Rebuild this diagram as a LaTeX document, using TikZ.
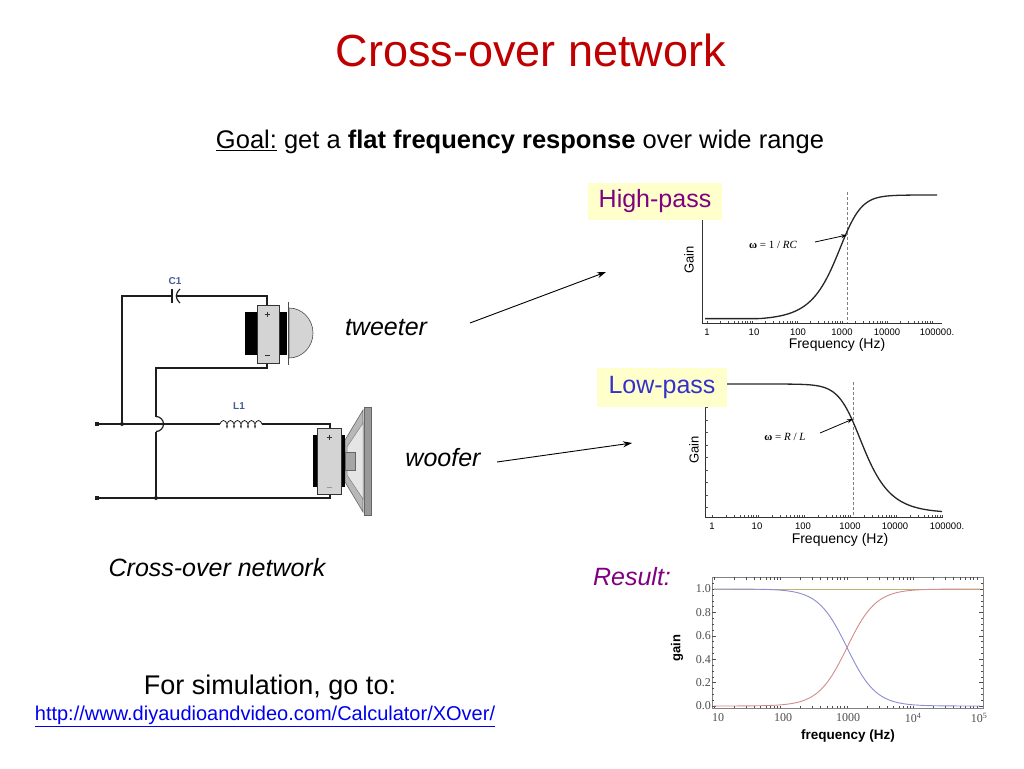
\documentclass[tikz,border=0pt]{standalone}
\usepackage{fontspec}
\setmainfont{Liberation Sans}
\newfontfamily\seriffont{Liberation Serif}
\usetikzlibrary{arrows.meta,decorations.pathmorphing}
\definecolor{titlered}{RGB}{192,0,0}
\definecolor{hpurple}{RGB}{128,0,128}
\definecolor{lblue}{RGB}{51,51,204}
\definecolor{boxyellow}{RGB}{255,255,204}
\definecolor{lblcol}{RGB}{70,90,150}
\definecolor{wire}{RGB}{30,30,30}
\definecolor{spkgray}{RGB}{212,212,212}
\definecolor{curveblue}{RGB}{140,140,210}
\definecolor{curvered}{RGB}{210,140,140}
\definecolor{sumline}{RGB}{190,180,120}
\definecolor{framegray}{RGB}{130,130,130}
\definecolor{urlblue}{RGB}{0,0,238}
\begin{document}
\begin{tikzpicture}[x=1pt,y=-1pt,
  txt/.style={inner sep=0pt, anchor=center},
  big/.style={font=\fontsize{25}{30}\selectfont},
  wirel/.style={draw=wire, line width=1.2pt},
  dot/.style={circle, fill=wire, inner sep=0pt, minimum size=4pt},
  term/.style={rectangle, fill=wire, inner sep=0pt, minimum size=3.5pt},
  axisl/.style={draw=black!80, line width=0.6pt},
  tickl/.style={draw=black!70, line width=0.4pt},
  gcurve/.style={line width=1.3pt, draw=black!85},
  lbox/.style={fill=boxyellow, inner sep=0pt, font=\fontsize{25}{30}\selectfont},
  ptr/.style={-{Stealth[length=9pt,width=6pt]}, line width=0.9pt},
  sptr/.style={-{Stealth[length=6pt,width=4pt]}, line width=0.8pt},
  ticklbl/.style={inner sep=0pt, anchor=center, font=\fontsize{9.5}{10}\selectfont},
  axlbl/.style={inner sep=0pt, anchor=center, font=\fontsize{14}{16}\selectfont},
  rlbl/.style={inner sep=0pt, font=\seriffont\fontsize{12}{13}\selectfont, text=black!70},
  cdash/.style={draw=black!50, line width=0.5pt, dash pattern=on 3pt off 2pt}
]
\useasboundingbox (0,0) rectangle (1024,768);

% ---------- texts ----------
\node[txt, text=titlered, font=\fontsize{45}{50}\selectfont] (title) at (531,50) {Cross-over network};
\node[txt, font=\fontsize{25.5}{30}\selectfont] (goal) at (520,142) {\underline{Goal:} get a \textbf{flat frequency response} over wide range};
\node[txt, big, font=\itshape\fontsize{25}{30}\selectfont] (tw) at (386,328) {tweeter};
\node[txt, big, font=\itshape\fontsize{25}{30}\selectfont] (wf) at (443,458) {woofer};
\node[txt, big, font=\itshape\fontsize{25}{30}\selectfont] (cap) at (217,568) {Cross-over network};
\node[txt, text=hpurple, font=\itshape\fontsize{25}{30}\selectfont] (res) at (632,577) {Result:};
\node[txt, font=\fontsize{27}{30}\selectfont] (sim) at (270,688) {For simulation, go to:};
\node[txt, text=urlblue, font=\fontsize{20}{24}\selectfont] (url) at (265,716) {\underline{http://www.diyaudioandvideo.com/Calculator/XOver/}};

% ---------- arrows ----------
\coordinate (twA) at (470,323);
\coordinate (twB) at (606,272);
\coordinate (wfA) at (497,462);
\coordinate (wfB) at (632,443);
\draw[ptr] (twA) -- (twB);
\draw[ptr] (wfA) -- (wfB);

% ---------- circuit ----------
\coordinate (tin) at (97,424);
\coordinate (bin) at (97,498);
\coordinate (j1) at (122,424);
\coordinate (cl) at (172,296);
\coordinate (cr) at (175.5,296);
\coordinate (twp) at (267,306);
\coordinate (twm) at (267,362);
\coordinate (hopT) at (156,416.5);
\coordinate (hopB) at (156,431.5);
\coordinate (j2) at (156,498);
\coordinate (la) at (220,424);
\coordinate (lb) at (262,424);
\coordinate (wfp) at (330,428);
\coordinate (wfm) at (330,494);

\draw[wirel] (j1) |- (cl);
\draw[wirel] (cr) -| (twp);
\draw[wirel] (twm) -- ++(0,6) -| (hopT);
\draw[wirel] (hopT) arc[start angle=-90, end angle=90, radius=7.5];
\draw[wirel] (hopB) -- (j2);
\draw[wirel] (tin) -- (la);
\draw[draw=wire, line width=0.8pt, decorate, decoration={coil, aspect=0.5, segment length=7pt, amplitude=3.5pt}] (la) -- (lb);
\draw[wirel] (lb) -| (wfp);
\draw[wirel] (bin) -| (wfm);
% capacitor plates
\draw[wirel] (172,289) -- (172,303);
\draw[wirel] (180,289) .. controls (175,294) and (175,298) .. (180,303);
\node[txt, text=lblcol, font=\bfseries\fontsize{10}{12}\selectfont] (c1) at (175,281) {C1};
\node[txt, text=lblcol, font=\bfseries\fontsize{10}{12}\selectfont] (l1) at (239,406) {L1};
\node[dot] at (j1) {};
\node[dot] at (j2) {};
\node[term] at (tin) {};
\node[term] at (bin) {};

% tweeter
\fill[black] (245,312) rectangle (287,355);
\draw[fill=spkgray, draw=black!80, line width=0.6pt] (257,305) rectangle (279,363);
\draw[black!80, line width=0.6pt] (264.5,314) -- (269.5,314) (267,311.5) -- (267,316.5);
\draw[black!80, line width=0.6pt] (264.5,355) -- (269.5,355);
\draw[fill=spkgray, draw=black!70, line width=0.6pt] (289,308) arc[start angle=-90, end angle=90, x radius=24, y radius=25] -- cycle;
\draw[black!70, line width=0.9pt] (288,302) -- (288,365);

% woofer
\draw[fill=black!28, draw=black!60, line width=0.6pt] (345,440) -- (363,410) -- (363,512) -- (345,482) -- cycle;
\draw[fill=black!10, draw=black!50, line width=0.5pt] (347,447) -- (363,423) -- (363,499) -- (347,475) -- cycle;
\draw[fill=black!35, draw=black!60, line width=0.5pt] (345,452) rectangle (355,470);
\fill[black] (313,435) rectangle (345,487);
\draw[fill=spkgray, draw=black!80, line width=0.6pt] (317,428) rectangle (341,494);
\draw[black!80, line width=0.6pt] (326.5,437) -- (331.5,437) (329,434.5) -- (329,439.5);
\draw[black!40, line width=0.6pt] (326.5,487) -- (331.5,487);
\draw[fill=black!40, draw=black!60, line width=0.6pt] (364,407) rectangle (371,515);

% ---------- high-pass plot ----------
\draw[axisl] (702,195) -- (702,323) -- (942,323);
\foreach \d in {0,...,4} \foreach \k in {1,...,9} {
  \draw[tickl] ({707+45*(\d+log10(\k))},323) -- ++(0,-2.5);
}
\draw[tickl] (932,323) -- ++(0,-2.5);
\draw[cdash] (847,192) -- (847,323);
\draw[gcurve] plot[domain=705:937, samples=120, smooth] (\x, {320 - 125/sqrt(1+exp(min(9,-4.6052*(\x-847)/45)))});
\foreach \lab/\px in {1/707, 10/754, 100/798, 1000/842, 10000/887, 100000./937}
  \node[ticklbl] at (\px,332) {\lab};
\node[axlbl] (hpf) at (837,345) {Frequency (Hz)};
\node[axlbl, rotate=90, font=\fontsize{13}{14}\selectfont] (hpg) at (689,260) {Gain};
\node[txt, font=\seriffont\fontsize{11}{12}\selectfont] (hpw) at (773,245) {\textbf{ω} = 1 / \textit{RC}};
\coordinate (hpA) at (815,242);
\coordinate (hpB) at (847,235);
\draw[sptr] (hpA) -- (hpB);
\node[lbox, minimum width=134pt, minimum height=37pt, text=hpurple] (hp) at (655,201.5) {High-pass};

% ---------- low-pass plot ----------
\draw[axisl] (705,375) -- (705,517) -- (943,517);
\foreach \d in {0,...,4} \foreach \k in {1,...,9} {
  \draw[tickl] ({712+46*(\d+log10(\k))},517) -- ++(0,-2.5);
}
\draw[tickl] (942,517) -- ++(0,-2.5);
\foreach \yy in {395,407.5,...,512} \draw[tickl] (705,\yy) -- ++(2.5,0);
\draw[cdash] (853,382) -- (853,517);
\draw[gcurve] plot[domain=706:942, samples=120, smooth] (\x, {513 - 129/sqrt(1+exp(min(9,4.6052*(\x-853)/46)))});
\foreach \lab/\px in {1/712, 10/757, 100/803, 1000/850, 10000/895, 100000./947}
  \node[ticklbl] at (\px,526) {\lab};
\node[axlbl] (lpf) at (840,540) {Frequency (Hz)};
\node[axlbl, rotate=90, font=\fontsize{13}{14}\selectfont] (lpg) at (694,450) {Gain};
\node[txt, font=\seriffont\fontsize{11}{12}\selectfont] (lpw) at (785,437) {\textbf{ω} = \textit{R} / \textit{L}};
\coordinate (lpA) at (820,433);
\coordinate (lpB) at (853,419);
\draw[sptr] (lpA) -- (lpB);
\node[lbox, minimum width=130pt, minimum height=39pt, text=lblue] (lp) at (662,387.5) {Low-pass};

% ---------- result plot ----------
\draw[framegray, line width=0.6pt] (712,577) rectangle (983,708);
\foreach \g in {0,0.2,...,1.01} {
  \draw[tickl] (712,{706-117*\g}) -- ++(4,0);
  \draw[tickl] (983,{706-117*\g}) -- ++(-4,0);
}
\foreach \g in {0.05,0.1,0.15,0.25,0.3,0.35,0.45,0.5,0.55,0.65,0.7,0.75,0.85,0.9,0.95,1.05} {
  \draw[tickl] (712,{706-117*\g}) -- ++(2,0);
  \draw[tickl] (983,{706-117*\g}) -- ++(-2,0);
}
\foreach \d in {0,...,3} \foreach \k in {1,...,9} {
  \draw[tickl] ({714+66.5*(\d+log10(\k))},708) -- ++(0,-2.5);
  \draw[tickl] ({714+66.5*(\d+log10(\k))},577) -- ++(0,2.5);
}
\draw[sumline, line width=0.9pt] (714,589) -- (980,589);
\draw[curveblue, line width=0.9pt] plot[domain=714:980, samples=120, smooth] (\x, {706 - 117/(1+exp(min(9,4.6052*(\x-847)/66.5)))});
\draw[curvered, line width=0.9pt] plot[domain=714:980, samples=120, smooth] (\x, {706 - 117/(1+exp(min(9,-4.6052*(\x-847)/66.5)))});
\foreach \lab/\g in {1.0/1, 0.8/0.8, 0.6/0.6, 0.4/0.4, 0.2/0.2, 0.0/0}
  \node[rlbl, anchor=east] at (711,{706-117*\g}) {\lab};
\foreach \lab/\px in {10/718, 100/783, 1000/848, 10\textsuperscript{4}/913, 10\textsuperscript{5}/979}
  \node[rlbl, anchor=center] at (\px,718) {\lab};
\node[txt, rotate=90, font=\bfseries\fontsize{13}{14}\selectfont] (rg) at (677,648) {gain};
\node[txt, font=\bfseries\fontsize{13.5}{15}\selectfont] (rf) at (848,736) {frequency (Hz)};

\end{tikzpicture}
\end{document}
